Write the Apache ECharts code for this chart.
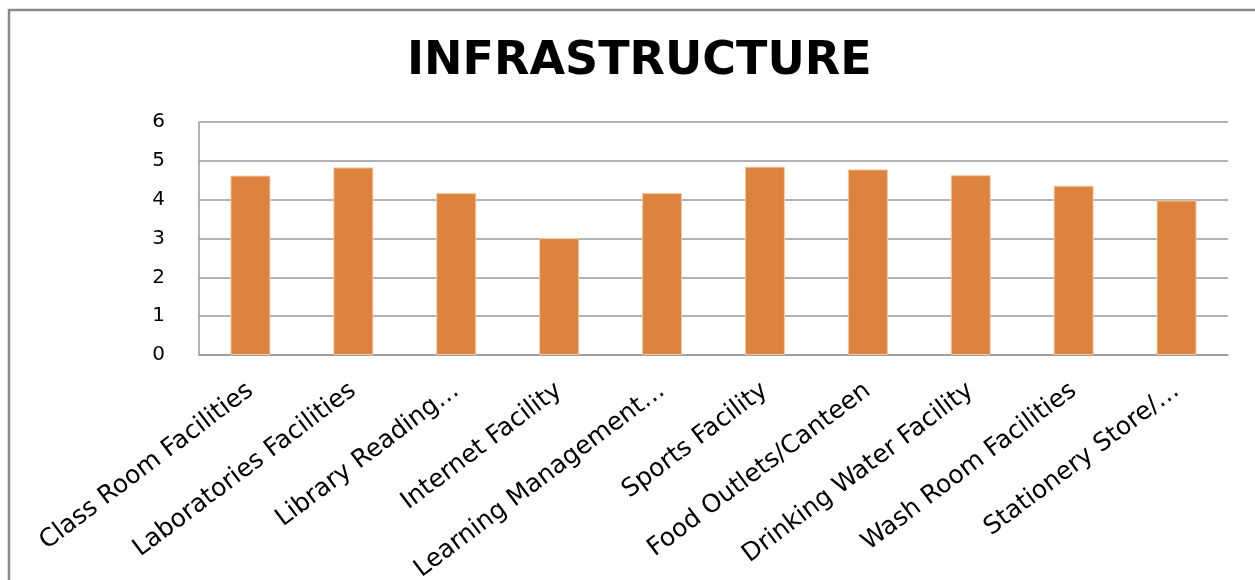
<!DOCTYPE html>
<html>
<head>
<meta charset="utf-8">
<script src="https://cdn.jsdelivr.net/npm/echarts@6/dist/echarts.min.js"></script>
<style>html,body{margin:0;padding:0;background:#fff;}#c{width:1255px;height:580px;}</style>
</head>
<body>
<div id="c"></div>
<script>
const categories = ["Class Room Facilities","Laboratories Facilities","Library Reading…","Internet Facility","Learning Management…","Sports Facility","Food Outlets/Canteen","Drinking Water Facility","Wash Room Facilities","Stationery Store/…"];
const values = [4.62, 4.83, 4.17, 3.01, 4.17, 4.85, 4.78, 4.63, 4.36, 3.98];
const yTicks = [0, 1, 2, 3, 4, 5, 6];
const chart = echarts.init(document.getElementById('c'));
chart.setOption({
  animation: false,
  backgroundColor: '#fff',
  title: {
    text: 'INFRASTRUCTURE', left: 402, top: 34,
    textStyle: { fontFamily: 'DejaVu Sans', fontWeight: 'bold', fontSize: 46, color: '#000' }
  },
  graphic: [{
    type: 'rect', shape: { x: 9, y: 10, width: 1400, height: 800 },
    style: { fill: 'none', stroke: '#8a8a8a', lineWidth: 2.5 }, silent: true
  }],
  grid: { left: 199, top: 122, right: 27, bottom: 225, containLabel: false, outerBoundsMode: 'none' },
  xAxis: {
    type: 'category', data: categories,
    axisLine: { lineStyle: { color: '#999', width: 1.5 } },
    axisTick: { show: false },
    axisLabel: { rotate: 37, interval: 0, fontFamily: 'DejaVu Sans', fontSize: 25, color: '#000', margin: 33 }
  },
  yAxis: {
    type: 'value', min: yTicks[0], max: yTicks[yTicks.length - 1], interval: 1,
    axisLine: { show: true, lineStyle: { color: '#999', width: 1.5 } },
    axisTick: { show: false },
    splitLine: { lineStyle: { color: '#999', width: 1.5 } },
    axisLabel: { fontFamily: 'DejaVu Sans', fontSize: 20, color: '#000', margin: 34, padding: [10, 0, 0, 0] }
  },
  series: [{
    type: 'bar', data: values, barWidth: 40,
    itemStyle: { color: '#DC843F', borderColor: '#F0C8A8', borderWidth: 1 }
  }]
});
</script>
</body>
</html>
